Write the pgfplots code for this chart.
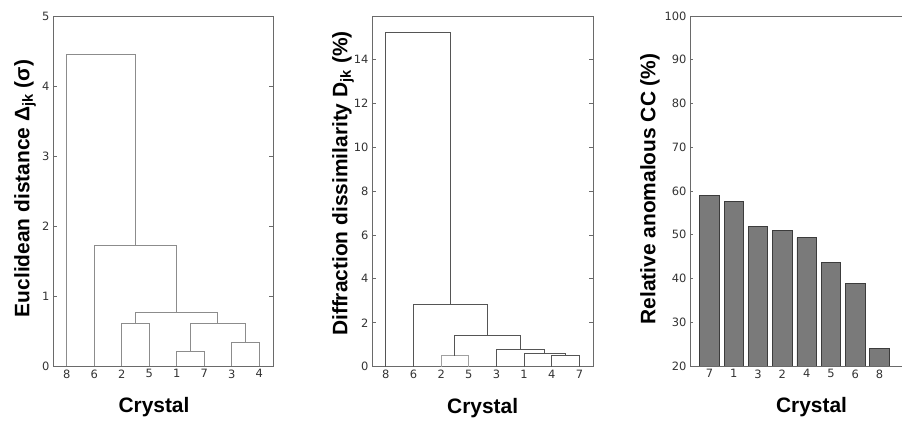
\documentclass[border=0pt]{standalone}
\usepackage{pgfplots}
\pgfplotsset{compat=1.18}
\usepackage{fontspec}
\setmainfont{DejaVu Sans}
\newfontfamily\labelfont{Liberation Sans}
\definecolor{frame}{HTML}{6A6A6A}
\definecolor{tick}{HTML}{333333}
\definecolor{dendA}{HTML}{8C8C8C}
\definecolor{dendB}{HTML}{555555}
\definecolor{dendC}{HTML}{A0A0A0}
\definecolor{barfill}{HTML}{7A7A7A}
\definecolor{baredge}{HTML}{3C3C3C}
\pgfplotsset{
  common/.style={
    scale only axis,
    anchor=south west,
    axis line style={frame, line width=0.9bp},
    /pgf/number format/assume math mode=true,
    ticklabel style={font=\fontsize{11.5}{13}\selectfont, text=tick},
    tick style={frame, line width=0.7bp},
    major tick length=4bp,
    tick align=inside,
    label style={font=\labelfont\bfseries\fontsize{21}{24}\selectfont, text=black},
    xtick pos=bottom,
    clip=false,
  },
  dend/.style={common, xmin=0, xmax=80, ymin=0,
    xtick={5,15,25,35,45,55,65,75},
    x tick style={draw=none},
    ytick pos=both,
  },
}
\begin{document}
\begin{tikzpicture}
\path[use as bounding box] (0,0) rectangle (902bp,422bp);
% Panel 1
\begin{axis}[dend, at={(53bp,56bp)}, width=220bp, height=350bp, ymax=5,
  ytick={0,1,2,3,4,5},
  xticklabels={8,6,2,5,1,7,3,4},
  ylabel={Euclidean distance Δ\textsubscript{jk} (σ)},
  ylabel style={at={(axis description cs:-0.127,0.507)}, anchor=center},
  xlabel={Crystal},
  xlabel style={at={(axis description cs:0.459,-0.118)}, anchor=center},
]
\addplot[dendA, line width=1bp] coordinates {(45,0) (45,0.20) (55,0.20) (55,0)};
\addplot[dendA, line width=1bp] coordinates {(65,0) (65,0.34) (75,0.34) (75,0)};
\addplot[dendA, line width=1bp] coordinates {(25,0) (25,0.60) (35,0.60) (35,0)};
\addplot[dendA, line width=1bp] coordinates {(50,0.20) (50,0.60) (70,0.60) (70,0.34)};
\addplot[dendA, line width=1bp] coordinates {(30,0.60) (30,0.76) (60,0.76) (60,0.60)};
\addplot[dendA, line width=1bp] coordinates {(15,0) (15,1.72) (45,1.72) (45,0.76)};
\addplot[dendA, line width=1bp] coordinates {(5,0) (5,4.45) (30,4.45) (30,1.72)};
\end{axis}
% Panel 2
\begin{axis}[dend, at={(372bp,55.3bp)}, width=221.3bp, height=350.7bp, ymax=15.96,
  ytick={0,2,4,6,8,10,12,14},
  xticklabels={8,6,2,5,3,1,4,7},
  ylabel={Diffraction dissimilarity D\textsubscript{jk} (\%)},
  ylabel style={at={(axis description cs:-0.131,0.522)}, anchor=center},
  xlabel={Crystal},
  xlabel style={at={(axis description cs:0.5,-0.118)}, anchor=center},
]
\addplot[dendB, line width=1bp] coordinates {(65,0) (65,0.5) (75,0.5) (75,0)};
\addplot[dendB, line width=1bp] coordinates {(55,0) (55,0.6) (70,0.6) (70,0.5)};
\addplot[dendB, line width=1bp] coordinates {(45,0) (45,0.8) (62.5,0.8) (62.5,0.6)};
\addplot[dendC, line width=1bp] coordinates {(25,0) (25,0.5) (35,0.5) (35,0)};
\addplot[dendB, line width=1bp] coordinates {(30,0.5) (30,1.41) (53.75,1.41) (53.75,0.8)};
\addplot[dendB, line width=1bp] coordinates {(15,0) (15,2.84) (41.875,2.84) (41.875,1.41)};
\addplot[dendB, line width=1bp] coordinates {(5,0) (5,15.23) (28.44,15.23) (28.44,2.84)};
\end{axis}
% Panel 3
\begin{axis}[common, at={(690bp,56bp)}, width=243bp, height=350bp,
  xmin=0, xmax=10, ymin=20, ymax=100,
  ytick={20,30,40,50,60,70,80,90,100},
  ytick pos=left,
  xtick=data,
  xticklabels={7,1,3,2,4,5,6,8},
  major tick length=3bp,
  ylabel={Relative anomalous CC (\%)},
  ylabel style={at={(axis description cs:-0.165,0.506)}, anchor=center},
  xlabel={Crystal},
  xlabel style={at={(axis description cs:0.5,-0.118)}, anchor=center},
]
\begin{scope}
\clip (axis cs:0,20) rectangle (axis cs:10,100);
\addplot[ybar, bar width=0.8, bar shift=0pt, fill=barfill, draw=baredge, line width=0.8bp]
  coordinates {(0.8,58.9) (1.8,57.6) (2.8,52.0) (3.8,50.9) (4.8,49.3) (5.8,43.7) (6.8,38.8) (7.8,24.1)};
\end{scope}
\end{axis}
\end{tikzpicture}
\end{document}
